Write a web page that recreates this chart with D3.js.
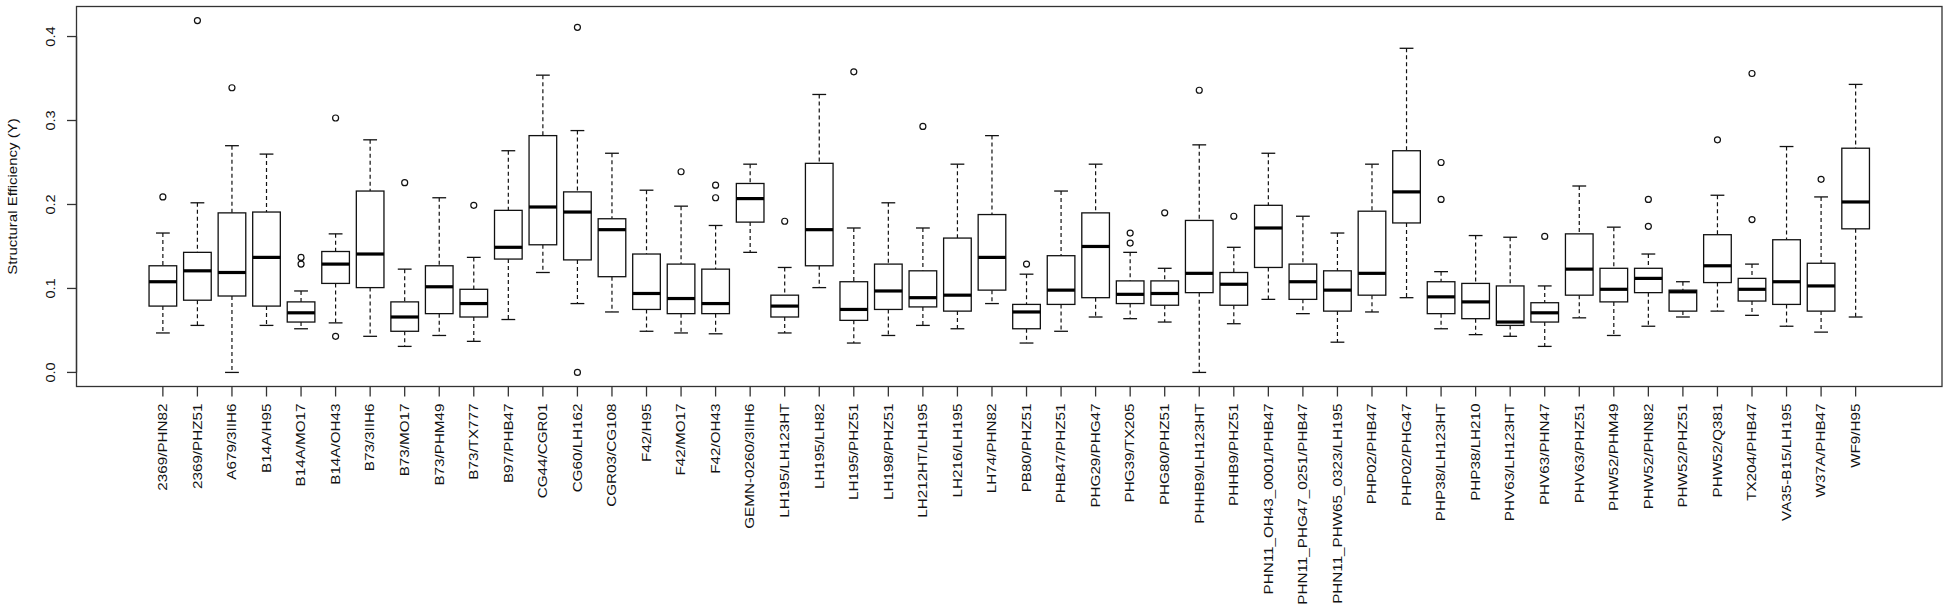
<!DOCTYPE html>
<html>
<head>
<meta charset="utf-8">
<script src="https://cdn.jsdelivr.net/npm/d3@7"></script>
<style>
  html, body { margin: 0; padding: 0; background: #ffffff; }
  svg { display: block; }
  text { font-family: "Liberation Sans", Arial, Helvetica, sans-serif; fill: #111; }
</style>
</head>
<body>
<svg id="chart" width="1949" height="614"></svg>
<script>
// ---------------- data ----------------
const categories = [
  "2369/PHN82","2369/PHZ51","A679/3IIH6","B14A/H95","B14A/MO17","B14A/OH43","B73/3IIH6","B73/MO17",
  "B73/PHM49","B73/TX777","B97/PHB47","CG44/CGR01","CG60/LH162","CGR03/CG108","F42/H95","F42/MO17",
  "F42/OH43","GEMN-0260/3IIH6","LH195/LH123HT","LH195/LH82","LH195/PHZ51","LH198/PHZ51","LH212HT/LH195",
  "LH216/LH195","LH74/PHN82","PB80/PHZ51","PHB47/PHZ51","PHG29/PHG47","PHG39/TX205","PHG80/PHZ51",
  "PHHB9/LH123HT","PHHB9/PHZ51","PHN11_OH43_0001/PHB47","PHN11_PHG47_0251/PHB47","PHN11_PHW65_0323/LH195",
  "PHP02/PHB47","PHP02/PHG47","PHP38/LH123HT","PHP38/LH210","PHV63/LH123HT","PHV63/PHN47","PHV63/PHZ51",
  "PHW52/PHM49","PHW52/PHN82","PHW52/PHZ51","PHW52/Q381","TX204/PHB47","VA35-B15/LH195","W37A/PHB47","WF9/H95"
];
const whiskerLow = [
  0.047,0.056,0.000,0.056,0.052,0.059,0.043,0.031,0.044,0.037,
  0.063,0.119,0.082,0.072,0.049,0.047,0.046,0.143,0.047,0.101,
  0.035,0.044,0.056,0.052,0.082,0.035,0.049,0.066,0.064,0.060,
  0.000,0.058,0.087,0.070,0.036,0.072,0.089,0.052,0.045,0.043,
  0.031,0.065,0.044,0.055,0.066,0.073,0.068,0.055,0.048,0.066
];
const q1 = [
  0.079,0.086,0.091,0.079,0.060,0.106,0.101,0.049,0.070,0.066,
  0.135,0.152,0.134,0.114,0.075,0.070,0.070,0.179,0.066,0.127,
  0.062,0.075,0.078,0.073,0.098,0.052,0.081,0.089,0.082,0.080,
  0.095,0.080,0.125,0.087,0.073,0.092,0.178,0.070,0.064,0.056,
  0.060,0.092,0.084,0.095,0.073,0.107,0.085,0.081,0.073,0.171
];
const medians = [
  0.108,0.121,0.119,0.137,0.071,0.129,0.141,0.066,0.102,0.082,
  0.149,0.197,0.191,0.170,0.094,0.088,0.082,0.207,0.079,0.170,
  0.075,0.097,0.089,0.092,0.137,0.072,0.098,0.150,0.093,0.094,
  0.118,0.105,0.172,0.108,0.098,0.118,0.215,0.090,0.084,0.060,
  0.071,0.123,0.099,0.112,0.096,0.127,0.099,0.108,0.103,0.203
];
const q3 = [
  0.127,0.143,0.190,0.191,0.084,0.144,0.216,0.084,0.127,0.099,
  0.193,0.282,0.215,0.183,0.141,0.129,0.123,0.225,0.092,0.249,
  0.108,0.129,0.121,0.160,0.188,0.081,0.139,0.190,0.109,0.109,
  0.181,0.119,0.199,0.129,0.121,0.192,0.264,0.108,0.106,0.103,
  0.083,0.165,0.124,0.124,0.098,0.164,0.112,0.158,0.130,0.267
];
const whiskerHigh = [
  0.166,0.202,0.270,0.260,0.097,0.165,0.277,0.123,0.208,0.137,
  0.264,0.354,0.288,0.261,0.217,0.198,0.175,0.248,0.125,0.331,
  0.172,0.202,0.172,0.248,0.282,0.117,0.216,0.248,0.143,0.124,
  0.271,0.149,0.261,0.186,0.166,0.248,0.386,0.120,0.163,0.161,
  0.103,0.222,0.173,0.141,0.108,0.211,0.129,0.269,0.209,0.343
];
const outliers = [
  [0.209],[0.419],[0.339],[],[0.137,0.129],[0.303,0.043],[],[0.226],[],[0.199],
  [],[],[0.411,0.000],[],[],[0.239],[0.223,0.208],[],[0.180],[],
  [0.358],[],[0.293],[],[],[0.129],[],[],[0.166,0.154],[0.190],
  [0.336],[0.186],[],[],[],[],[],[0.250,0.206],[],[],
  [0.162],[],[],[0.206,0.174],[],[0.277],[0.356,0.182],[],[0.230],[]
];
const yTickValues = [0.0, 0.1, 0.2, 0.3, 0.4];
const yTickLabels = ["0.0", "0.1", "0.2", "0.3", "0.4"];
const yTitle = "Structural Efficiency (Y)";

// ---------------- layout ----------------
const plot = { left: 76.5, right: 1942, top: 6.5, bottom: 386.5 };
const n = categories.length;
const svg = d3.select("#chart");

// R-style range: [0.5, n+0.5] extended by 4% each side
const xPad = 0.04 * n;
const x = d3.scaleLinear()
  .domain([0.5 - xPad, n + 0.5 + xPad])
  .range([plot.left, plot.right]);

const allVals = whiskerLow.concat(whiskerHigh, outliers.flat());
const yMin = d3.min(allVals), yMax = d3.max(allVals);
const yPad = 0.04 * (yMax - yMin);
const y = d3.scaleLinear()
  .domain([yMin - yPad, yMax + yPad])
  .range([plot.bottom, plot.top]);

const unit = x(2) - x(1);
const boxW = 0.8 * unit;
const capW = 0.4 * unit;

const data = categories.map((c, i) => ({
  name: c, pos: i + 1,
  lo: whiskerLow[i], q1: q1[i], med: medians[i], q3: q3[i], hi: whiskerHigh[i],
  out: outliers[i]
}));

const g = svg.append("g");

const groups = g.selectAll("g.box").data(data).enter().append("g").attr("class", "box");

// whiskers (dashed)
groups.append("line")
  .attr("x1", d => x(d.pos)).attr("x2", d => x(d.pos))
  .attr("y1", d => y(d.hi)).attr("y2", d => y(d.q3))
  .attr("stroke", "#111").attr("stroke-width", 1.2).attr("stroke-dasharray", "4,3");
groups.append("line")
  .attr("x1", d => x(d.pos)).attr("x2", d => x(d.pos))
  .attr("y1", d => y(d.q1)).attr("y2", d => y(d.lo))
  .attr("stroke", "#111").attr("stroke-width", 1.2).attr("stroke-dasharray", "4,3");
// caps
groups.append("line")
  .attr("x1", d => x(d.pos) - capW / 2).attr("x2", d => x(d.pos) + capW / 2)
  .attr("y1", d => y(d.hi)).attr("y2", d => y(d.hi))
  .attr("stroke", "#111").attr("stroke-width", 1.3);
groups.append("line")
  .attr("x1", d => x(d.pos) - capW / 2).attr("x2", d => x(d.pos) + capW / 2)
  .attr("y1", d => y(d.lo)).attr("y2", d => y(d.lo))
  .attr("stroke", "#111").attr("stroke-width", 1.3);
// box
groups.append("rect")
  .attr("x", d => x(d.pos) - boxW / 2).attr("width", boxW)
  .attr("y", d => y(d.q3)).attr("height", d => y(d.q1) - y(d.q3))
  .attr("fill", "#fff").attr("stroke", "#111").attr("stroke-width", 1.3);
// median
groups.append("line")
  .attr("x1", d => x(d.pos) - boxW / 2).attr("x2", d => x(d.pos) + boxW / 2)
  .attr("y1", d => y(d.med)).attr("y2", d => y(d.med))
  .attr("stroke", "#000").attr("stroke-width", 3.2);
// outliers
groups.selectAll("circle").data(d => d.out.map(v => ({ pos: d.pos, v }))).enter().append("circle")
  .attr("cx", d => x(d.pos)).attr("cy", d => y(d.v)).attr("r", 3)
  .attr("fill", "none").attr("stroke", "#111").attr("stroke-width", 1.2);

// frame
svg.append("rect")
  .attr("x", plot.left).attr("y", plot.top)
  .attr("width", plot.right - plot.left).attr("height", plot.bottom - plot.top)
  .attr("fill", "none").attr("stroke", "#333").attr("stroke-width", 1.3);

// y axis
const yAxisG = svg.append("g").attr("transform", `translate(${plot.left},0)`);
yAxisG.append("line")
  .attr("x1", 0).attr("x2", 0)
  .attr("y1", y(yTickValues[0])).attr("y2", y(yTickValues[yTickValues.length - 1]))
  .attr("stroke", "#333").attr("stroke-width", 1.3);
yTickValues.forEach((v, i) => {
  yAxisG.append("line").attr("x1", -9.5).attr("x2", 0).attr("y1", y(v)).attr("y2", y(v))
    .attr("stroke", "#333").attr("stroke-width", 1.3);
  yAxisG.append("text")
    .attr("transform", `translate(-22,${y(v)}) rotate(-90) scale(1.12,1)`)
    .attr("text-anchor", "middle")
    .style("font-size", "13px")
    .text(yTickLabels[i]);
});

// y title
svg.append("text")
  .attr("transform", `translate(17,${(plot.top + plot.bottom) / 2}) rotate(-90) scale(1.2,1)`)
  .attr("text-anchor", "middle")
  .style("font-size", "12.5px")
  .text(yTitle);

// x axis ticks and labels
const xAxisG = svg.append("g").attr("transform", `translate(0,${plot.bottom})`);
data.forEach(d => {
  xAxisG.append("line").attr("x1", x(d.pos)).attr("x2", x(d.pos)).attr("y1", 0).attr("y2", 10)
    .attr("stroke", "#333").attr("stroke-width", 1.3);
  xAxisG.append("text")
    .attr("transform", `translate(${x(d.pos) + 4.3},17) rotate(-90) scale(1.27,1)`)
    .attr("text-anchor", "end")
    .style("font-size", "12px")
    .text(d.name);
});
</script>
</body>
</html>
